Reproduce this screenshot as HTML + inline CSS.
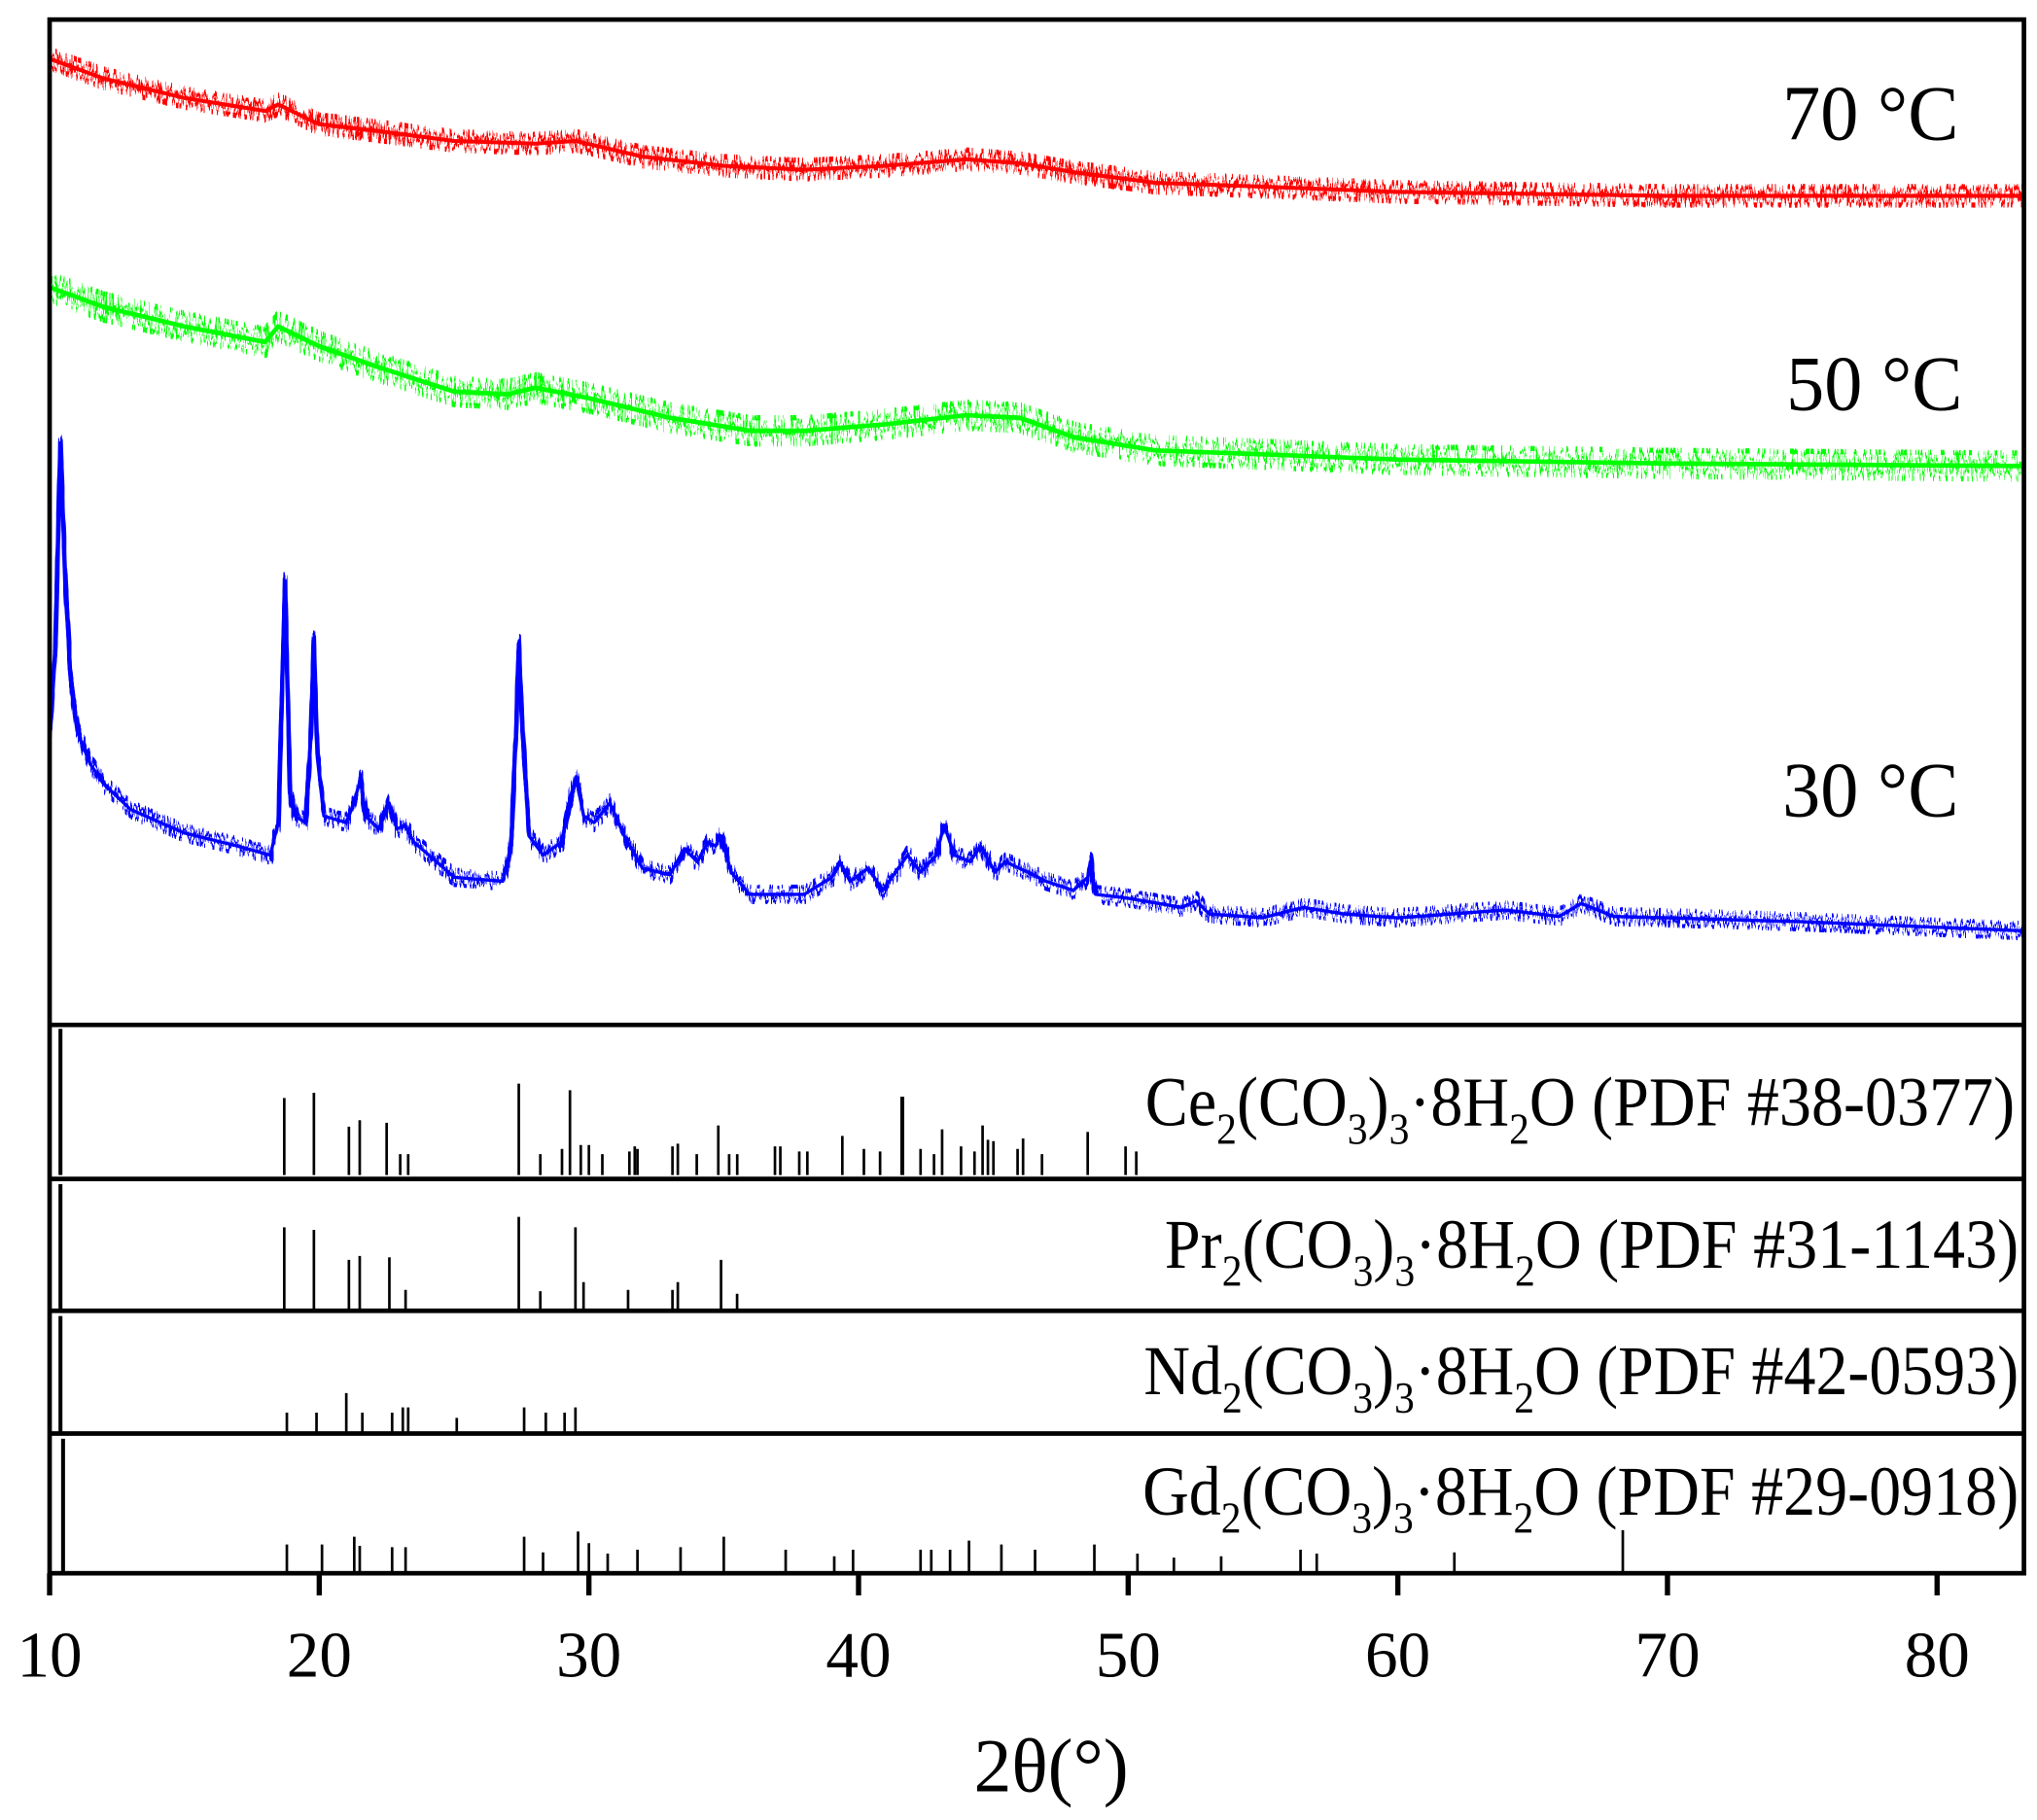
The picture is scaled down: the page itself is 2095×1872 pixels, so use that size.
<!DOCTYPE html>
<html><head><meta charset="utf-8"><style>html,body{margin:0;padding:0;background:#fff}svg{display:block}</style></head>
<body>
<svg width="2095" height="1872" viewBox="0 0 1560 1394" preserveAspectRatio="none" xmlns="http://www.w3.org/2000/svg" xmlns:xlink="http://www.w3.org/1999/xlink" font-family="'Liberation Serif', serif">
<defs>
<filter id="nz1" filterUnits="userSpaceOnUse" x="0" y="0" width="1560" height="1394">
<feTurbulence type="fractalNoise" baseFrequency="0.6 0.03" numOctaves="2" seed="3" result="t"/>
<feColorMatrix in="t" type="matrix" values="0 0 0 0 0.5  0 3 0 0 -1  0 0 0 0 0  0 0 0 0 1" result="m"/>
<feDisplacementMap in="SourceGraphic" in2="m" scale="14" xChannelSelector="R" yChannelSelector="G"/>
</filter>
<filter id="nz2" filterUnits="userSpaceOnUse" x="0" y="0" width="1560" height="1394">
<feTurbulence type="fractalNoise" baseFrequency="0.6 0.03" numOctaves="2" seed="7" result="t"/>
<feColorMatrix in="t" type="matrix" values="0 0 0 0 0.5  0 3 0 0 -1  0 0 0 0 0  0 0 0 0 1" result="m"/>
<feDisplacementMap in="SourceGraphic" in2="m" scale="20" xChannelSelector="R" yChannelSelector="G"/>
</filter>
<filter id="nz3" filterUnits="userSpaceOnUse" x="0" y="0" width="1560" height="1394">
<feTurbulence type="fractalNoise" baseFrequency="0.6 0.03" numOctaves="2" seed="11" result="t"/>
<feColorMatrix in="t" type="matrix" values="0 0 0 0 0.5  0 3 0 0 -1  0 0 0 0 0  0 0 0 0 1" result="m"/>
<feDisplacementMap in="SourceGraphic" in2="m" scale="12" xChannelSelector="R" yChannelSelector="G"/>
</filter>
<filter id="nz4" filterUnits="userSpaceOnUse" x="0" y="0" width="1560" height="1394">
<feTurbulence type="fractalNoise" baseFrequency="0.5 0.03" numOctaves="2" seed="21" result="t"/>
<feColorMatrix in="t" type="matrix" values="0 0 0 0 0.5  0 3 0 0 -1  0 0 0 0 0  0 0 0 0 1" result="m"/>
<feDisplacementMap in="SourceGraphic" in2="m" scale="14" xChannelSelector="R" yChannelSelector="G"/>
</filter>
<filter id="nz5" filterUnits="userSpaceOnUse" x="0" y="0" width="1560" height="1394">
<feTurbulence type="fractalNoise" baseFrequency="0.5 0.03" numOctaves="2" seed="29" result="t"/>
<feColorMatrix in="t" type="matrix" values="0 0 0 0 0.5  0 3 0 0 -1  0 0 0 0 0  0 0 0 0 1" result="m"/>
<feDisplacementMap in="SourceGraphic" in2="m" scale="20" xChannelSelector="R" yChannelSelector="G"/>
</filter>
<filter id="nz6" filterUnits="userSpaceOnUse" x="0" y="0" width="1560" height="1394">
<feTurbulence type="fractalNoise" baseFrequency="0.5 0.03" numOctaves="2" seed="37" result="t"/>
<feColorMatrix in="t" type="matrix" values="0 0 0 0 0.5  0 3 0 0 -1  0 0 0 0 0  0 0 0 0 1" result="m"/>
<feDisplacementMap in="SourceGraphic" in2="m" scale="12" xChannelSelector="R" yChannelSelector="G"/>
</filter>
<clipPath id="cp"><rect x="38" y="15" width="1512" height="770"/></clipPath>
<path id="r" d="M38 45 L79 60 L141 75 L203 85 L213 80 L244 95 L286 100 L348 108 L410 110 L441 108 L492 120 L554 127 L616 130 L678 127 L740 122 L781 125 L823 132 L885 140 L967 143 L1070 147 L1277 150 L1552 150"/>
<path id="g" d="M38 220 L79 235 L141 250 L203 262 L213 250 L244 265 L286 280 L348 300 L389 302 L410 297 L451 305 L513 320 L575 330 L616 330 L678 325 L740 318 L781 320 L823 335 L885 345 L967 348 L1070 352 L1277 355 L1552 357"/>
<path id="b" d="M38 565 L42 500 L46 340 L50 450 L54 520 L59 560 L69 585 L79 600 L100 620 L141 638 L182 648 L207 655 L213 630 L218 445 L222 610 L226 625 L234 630 L238 560 L240 490 L243 580 L248 625 L265 630 L271 615 L276 597 L280 625 L290 635 L298 615 L304 635 L310 632 L317 645 L348 672 L385 675 L391 650 L395 560 L397 493 L400 560 L405 640 L416 655 L430 645 L437 610 L441 595 L447 625 L455 630 L467 615 L478 640 L492 665 L513 670 L524 650 L534 660 L542 645 L548 648 L552 640 L560 668 L574 685 L616 685 L637 672 L643 660 L651 675 L665 665 L676 682 L695 655 L705 668 L717 655 L723 632 L731 655 L743 660 L751 648 L762 668 L770 660 L787 668 L801 675 L822 682 L833 672 L835 660 L839 685 L864 688 L905 695 L916 690 L926 700 L967 703 L998 695 L1029 700 L1070 703 L1112 700 L1153 697 L1194 702 L1211 692 L1236 702 L1277 703 L1380 706 L1552 713"/>
</defs>
<rect width="1560" height="1394" fill="#fff"/>
<g clip-path="url(#cp)" fill="none" stroke-linejoin="round">
<use xlink:href="#r" stroke="#ff0000" stroke-width="3"/>
<use xlink:href="#r" stroke="#ff0000" stroke-width="4" filter="url(#nz1)"/>
<use xlink:href="#r" stroke="#ff0000" stroke-width="4" filter="url(#nz4)" transform="translate(0.5,0)"/>
<use xlink:href="#g" stroke="#00ff00" stroke-width="3.5"/>
<use xlink:href="#g" stroke="#00ff00" stroke-width="4" filter="url(#nz2)"/>
<use xlink:href="#g" stroke="#00ff00" stroke-width="4" filter="url(#nz5)" transform="translate(0.5,0)"/>
<use xlink:href="#b" stroke="#0000ff" stroke-width="2.5"/>
<use xlink:href="#b" stroke="#0000ff" stroke-width="3" filter="url(#nz3)"/>
<use xlink:href="#b" stroke="#0000ff" stroke-width="3" filter="url(#nz6)" transform="translate(0.5,0)"/>
</g>
<g stroke="#000" stroke-width="2" fill="none">
<path stroke-width="3" d="M46.3 900V788 M46.3 1003V907 M46.3 1097V1008 M48.3 1204V1102"/>
<path d="M217.7 900V841 M240.4 900V837 M267.2 900V863 M275.5 900V858 M296.1 900V860 M306.5 900V884 M312.6 900V884 M397.3 900V830 M413.8 900V884 M430.4 900V880 M436.5 900V835 M444.8 900V877 M451 900V877 M461.3 900V884 M482 900V882 M486.1 900V878 M488.2 900V880 M515 900V878 M519.1 900V876 M533.6 900V884 M550.1 900V862 M558.4 900V884 M564.6 900V884 M593.5 900V878 M597.6 900V878 M612.1 900V882 M618.3 900V882 M645.1 900V870 M661.6 900V880 M674 900V882 M705 900V880 M715.3 900V884 M721.5 900V865 M736 900V878 M746.3 900V882 M752.5 900V862 M756.6 900V873 M760.8 900V874 M779.3 900V880 M783.5 900V872 M798 900V884 M833 900V867 M862 900V878 M870.2 900V882"/>
<path stroke-width="3" d="M691 900V840"/>
<path d="M217.7 1003V940 M240.4 1003V942 M267.2 1003V965 M275.5 1003V962 M298.2 1003V963 M310.6 1003V988 M397.3 1003V932 M413.8 1003V989 M440.7 1003V940 M446.9 1003V982 M481 1003V988 M515 1003V988 M519.1 1003V982 M552.2 1003V965 M564.5 1003V991"/>
<path d="M219.7 1097V1082 M242.4 1097V1082 M265.2 1097V1067 M277.5 1097V1082 M300.3 1097V1082 M308.5 1097V1078 M312.6 1097V1078 M349.8 1097V1086 M401.4 1097V1078 M418 1097V1082 M432.4 1097V1082 M440.7 1097V1078"/>
<path d="M219.7 1204V1183 M246.6 1204V1183 M271.3 1204V1177 M275.5 1204V1184 M300.3 1204V1185 M310.6 1204V1185 M401.4 1204V1177 M415.9 1204V1189 M442.7 1204V1173 M451 1204V1182 M465.4 1204V1190 M488.2 1204V1187 M521.2 1204V1185 M554.3 1204V1177 M601.7 1204V1187 M638.9 1204V1192 M653.3 1204V1187 M705 1204V1187 M713.2 1204V1187 M727.6 1204V1187 M742.1 1204V1180 M766.9 1204V1183 M792.7 1204V1187 M838.1 1204V1183 M871.1 1204V1190 M899 1204V1193 M935.2 1204V1192 M996 1204V1187 M1008.4 1204V1190 M1113.8 1204V1189 M1242.8 1204V1172"/>
</g>
<g stroke="#000" stroke-width="3.5" fill="none">
<rect x="38" y="15" width="1512" height="1190"/>
<line x1="38" y1="785" x2="1550" y2="785"/>
<line x1="38" y1="903" x2="1550" y2="903"/>
<line x1="38" y1="1004" x2="1550" y2="1004"/>
<line x1="38" y1="1098" x2="1550" y2="1098"/>
<path stroke-width="4" d="M38 1205V1222 M244.5 1205V1222 M451 1205V1222 M657.5 1205V1222 M864 1205V1222 M1070.5 1205V1222 M1277 1205V1222 M1483.5 1205V1222"/>
</g>
<g font-size="50" text-anchor="middle" fill="#000">
<text x="38" y="1284">10</text><text x="244.5" y="1284">20</text><text x="451" y="1284">30</text><text x="657.5" y="1284">40</text><text x="864" y="1284">50</text><text x="1070.5" y="1284">60</text><text x="1277" y="1284">70</text><text x="1483.5" y="1284">80</text>
</g>
<text x="805" y="1372" font-size="58" text-anchor="middle">2θ(°)</text>
<g font-size="60">
<text x="1365" y="107" textLength="135" lengthAdjust="spacingAndGlyphs">70 °C</text>
<text x="1368" y="314" textLength="135" lengthAdjust="spacingAndGlyphs">50 °C</text>
<text x="1365" y="625" textLength="135" lengthAdjust="spacingAndGlyphs">30 °C</text>
</g>
<g font-size="54">
<text x="877" y="862" textLength="666" lengthAdjust="spacingAndGlyphs">Ce<tspan font-size="34" dy="14">2</tspan><tspan dy="-14">(CO</tspan><tspan font-size="34" dy="14">3</tspan><tspan dy="-14">)</tspan><tspan font-size="34" dy="14">3</tspan><tspan dy="-14">·8H</tspan><tspan font-size="34" dy="14">2</tspan><tspan dy="-14">O (PDF #38-0377)</tspan></text>
<text x="892" y="971" textLength="654" lengthAdjust="spacingAndGlyphs">Pr<tspan font-size="34" dy="14">2</tspan><tspan dy="-14">(CO</tspan><tspan font-size="34" dy="14">3</tspan><tspan dy="-14">)</tspan><tspan font-size="34" dy="14">3</tspan><tspan dy="-14">·8H</tspan><tspan font-size="34" dy="14">2</tspan><tspan dy="-14">O (PDF #31-1143)</tspan></text>
<text x="876" y="1068" textLength="670" lengthAdjust="spacingAndGlyphs">Nd<tspan font-size="34" dy="14">2</tspan><tspan dy="-14">(CO</tspan><tspan font-size="34" dy="14">3</tspan><tspan dy="-14">)</tspan><tspan font-size="34" dy="14">3</tspan><tspan dy="-14">·8H</tspan><tspan font-size="34" dy="14">2</tspan><tspan dy="-14">O (PDF #42-0593)</tspan></text>
<text x="875" y="1160" textLength="671" lengthAdjust="spacingAndGlyphs">Gd<tspan font-size="34" dy="14">2</tspan><tspan dy="-14">(CO</tspan><tspan font-size="34" dy="14">3</tspan><tspan dy="-14">)</tspan><tspan font-size="34" dy="14">3</tspan><tspan dy="-14">·8H</tspan><tspan font-size="34" dy="14">2</tspan><tspan dy="-14">O (PDF #29-0918)</tspan></text>
</g>
</svg>
</body></html>
